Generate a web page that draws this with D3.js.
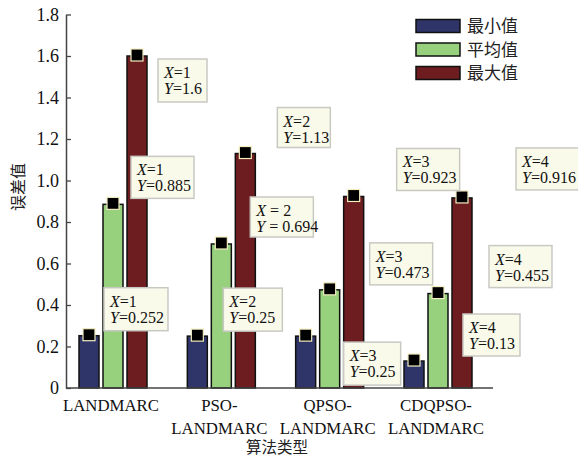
<!DOCTYPE html>
<html><head><meta charset="utf-8">
<script src="https://cdn.jsdelivr.net/npm/d3@7"></script>
<style>body{margin:0;background:#fff}svg{display:block}</style>
</head><body>
<script>
// ---- data ----
const categories = [["LANDMARC"], ["PSO-", "LANDMARC"], ["QPSO-", "LANDMARC"], ["CDQPSO-", "LANDMARC"]];
const xValues = [1, 2, 3, 4];
const seriesNames = ["最小值", "平均值", "最大值"];
const minVals = [0.252, 0.25, 0.25, 0.13];
const meanVals = [0.885, 0.694, 0.473, 0.455];
const maxVals = [1.6, 1.13, 0.923, 0.916];
const yTicks = [0, 0.2, 0.4, 0.6, 0.8, 1.0, 1.2, 1.4, 1.6, 1.8];
const yTickLabels = ["0", "0.2", "0.4", "0.6", "0.8", "1.0", "1.2", "1.4", "1.6", "1.8"];
const xTitle = "算法类型";
const yTitle = "误差值";

// ---- layout / style (not data) ----
const colors = ["#2f3569", "#97d17e", "#6d1c1f"];
// label box offsets relative to data point: [dx, dy, width, height, spaced]
const labelLayout = [
  [[15, -48, 64, 43, false], [26, -48, 59, 43, false], [38, 6, 57, 43, false], [49, -47, 57, 42, false]],
  [[18, -48, 63, 42, false], [29, -47, 63, 40, true], [40, -47, 63, 42, false], [51, -48, 63, 42, false]],
  [[21, 3, 49, 43, false], [32, -46, 53, 40, false], [43, -48, 63, 42, false], [54, -50, 63, 42, false]]
];

const W = 578, H = 459;
const svg = d3.select("body").append("svg").attr("width", W).attr("height", H);
const serif = "'Liberation Serif','DejaVu Serif','Noto Sans CJK SC',serif";
const cjk = "'Noto Sans CJK SC',sans-serif";

const x = d3.scaleLinear().domain([1, 4]).range([113, 438]);
const y = d3.scaleLinear().domain([0, 1.8]).range([388, 14.5]);
const axisLeftX = 66, axisRightX = 493;
const barW = 20, barStep = 24;

const series = [minVals, meanVals, maxVals];

// axes
const yAxis = d3.axisLeft(y).tickValues(yTicks).tickFormat((d, i) => yTickLabels[i])
  .tickSizeInner(-5).tickSizeOuter(0).tickPadding(7);
const gy = svg.append("g").attr("transform", `translate(${axisLeftX},0)`).call(yAxis);
gy.select(".domain").attr("stroke", "#444").attr("stroke-width", 1.5);
gy.selectAll(".tick line").attr("stroke", "#444").attr("stroke-width", 1.3);
gy.selectAll(".tick text").attr("font-family", serif).attr("font-size", 18).attr("fill", "#111");

// bars
series.forEach((vals, s) => {
  svg.append("g").selectAll("rect").data(vals).join("rect")
    .attr("x", (d, i) => x(xValues[i]) + (s - 1) * barStep - barW / 2)
    .attr("y", d => y(d))
    .attr("width", barW)
    .attr("height", d => y(0) - y(d))
    .attr("fill", colors[s])
    .attr("stroke", "#111").attr("stroke-width", 1.5);
});

// x axis line
svg.append("line").attr("x1", axisLeftX).attr("x2", axisRightX).attr("y1", y(0)).attr("y2", y(0))
  .attr("stroke", "#444").attr("stroke-width", 1.5);

// markers
series.forEach((vals, s) => {
  svg.append("g").selectAll("rect").data(vals).join("rect")
    .attr("x", (d, i) => x(xValues[i]) + (s - 1) * barStep - 6)
    .attr("y", d => y(d) - 7)
    .attr("width", 12).attr("height", 12)
    .attr("fill", "#000").attr("stroke", "#f3edc0").attr("stroke-width", 1.2);
});

// data tips
series.forEach((vals, s) => {
  vals.forEach((v, i) => {
    const [dx, dy, w, h, spaced] = labelLayout[s][i];
    const px = x(xValues[i]) + (s - 1) * barStep, py = y(v);
    const bx = px + dx, by = py + dy;
    const g = svg.append("g");
    g.append("rect").attr("x", bx).attr("y", by).attr("width", w).attr("height", h)
      .attr("fill", "#fafaea").attr("stroke", "#c9c9c4").attr("stroke-width", 1.5);
    const eq = spaced ? " = " : "=";
    const lines = [["X", eq + xValues[i]], ["Y", eq + v]];
    lines.forEach((ln, k) => {
      const t = g.append("text").attr("x", bx + 6).attr("y", by + 19 + k * 16)
        .attr("font-family", serif).attr("font-size", 16).attr("fill", "#111");
      t.append("tspan").attr("font-style", "italic").text(ln[0]);
      t.append("tspan").text(ln[1]);
    });
  });
});

// category labels
categories.forEach((lines, i) => {
  const t = svg.append("text").attr("text-anchor", "middle")
    .attr("font-family", serif).attr("font-size", 16.8).attr("fill", "#111");
  lines.forEach((ln, k) => {
    t.append("tspan").attr("x", x(xValues[i]) - 2).attr("y", 411 + k * 23).text(ln);
  });
});

// axis titles
svg.append("text").attr("x", 277).attr("y", 453).attr("text-anchor", "middle")
  .attr("font-family", cjk).attr("font-size", 15.5).attr("fill", "#222").text(xTitle);
svg.append("text").attr("transform", "translate(24,187) rotate(-90)").attr("text-anchor", "middle")
  .attr("font-family", cjk).attr("font-size", 16).attr("fill", "#222").text(yTitle);

// legend
seriesNames.forEach((name, s) => {
  const ly = 19.5 + s * 23.5;
  svg.append("rect").attr("x", 416).attr("y", ly).attr("width", 44).attr("height", 13)
    .attr("fill", colors[s]).attr("stroke", "#111").attr("stroke-width", 1.5);
  svg.append("text").attr("x", 467).attr("y", ly + 12.5)
    .attr("font-family", cjk).attr("font-size", 17).attr("fill", "#222").text(name);
});
</script>
</body></html>
